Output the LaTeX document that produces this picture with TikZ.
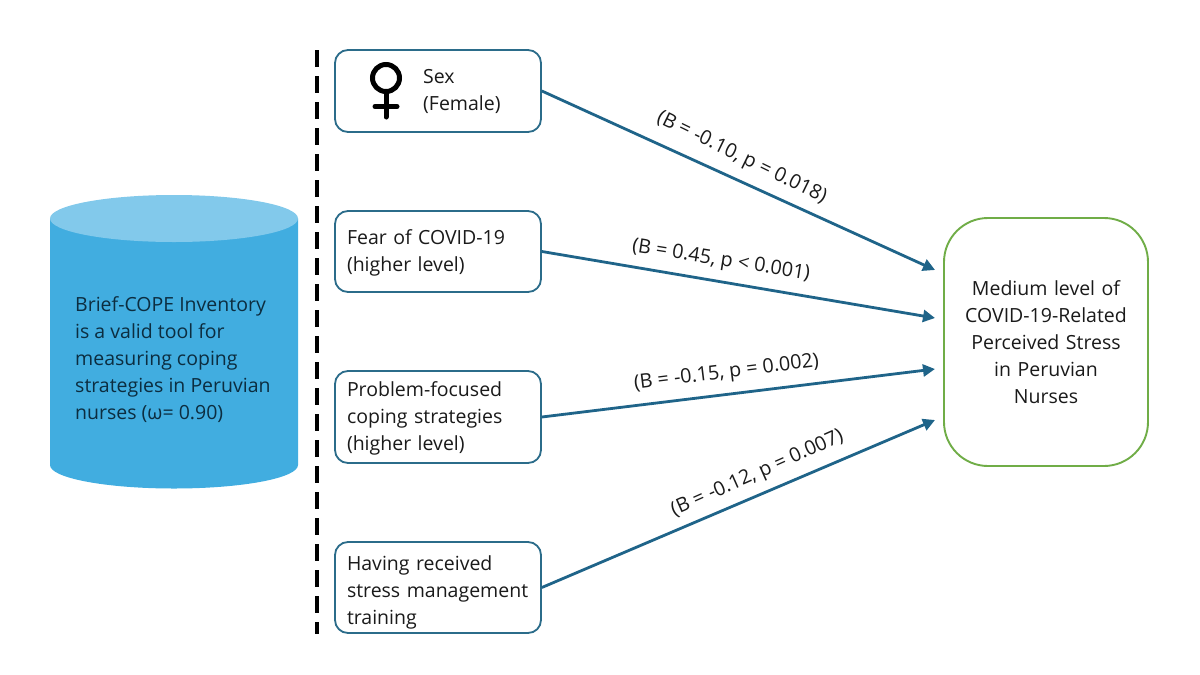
\documentclass[tikz,border=0pt]{standalone}
\usepackage{fontspec}
\setmainfont{Open Sans}
\usetikzlibrary{arrows.meta}
\definecolor{linkc}{HTML}{1F6489}
\definecolor{boxc}{HTML}{2B6C8A}
\definecolor{greenc}{HTML}{70AD47}
\definecolor{cylbody}{HTML}{41ADE0}
\definecolor{cyltop}{HTML}{82C9EB}
\definecolor{inkc}{HTML}{1A1A1A}
\definecolor{cylink}{HTML}{0C2D40}
\tikzset{
  x=1pt,y=-1pt,
  every node/.style={font=\fontsize{19.5}{27}\selectfont,text=inkc,inner sep=0pt},
  factor/.style={draw=boxc,line width=1.8pt,rounded corners=13pt,minimum width=206pt,fill=white,
    align=left,text width=182pt},
  outcome/.style={draw=greenc,line width=1.9pt,rounded corners=44pt,minimum width=204pt,minimum height=248pt,
    align=center,text width=190pt},
  link/.style={draw=linkc,line width=2.8pt,-{Triangle[length=12pt,width=12pt]}},
  coef/.style={font=\fontsize{19.8}{22}\selectfont},
  divider/.style={draw=black,line width=3.4pt,dash pattern=on 17pt off 9pt},
  symbolline/.style={draw=black,line width=5pt,line cap=round}
}
\begin{document}
\begin{tikzpicture}
\useasboundingbox[fill=white] (0,0) rectangle (1200,675);
% cylinder
\fill[cylbody] (50,218.5) -- (50,465) arc[x radius=124,y radius=23.5,start angle=180,end angle=0] -- (298,218.5) -- cycle;
\fill[cyltop] (174,218.5) ellipse[x radius=124,y radius=23.5];
\node[anchor=west,align=left,text=cylink] (tool) at (75,359.5) {Brief-COPE Inventory\\is a valid tool for\\measuring coping\\strategies in Peruvian\\nurses (ω= 0.90)};
% divider
\coordinate (dtop) at (317,50);
\coordinate (dbot) at (317,634);
\draw[divider] (dtop) -- (dbot);
% factors
\node[factor,minimum height=82pt] (f1) at (438,91) {};
\node[anchor=west,align=left] (f1t) at (423,91.5) {Sex\\(Female)};
\draw[symbolline] (386,78) circle[radius=13.5];
\draw[symbolline] (386,92) -- (386,117);
\draw[symbolline] (375,106.5) -- (397,106.5);
\node[factor,minimum height=81pt] (f2) at (438,251.5) {\rule{0pt}{17pt}Fear of COVID-19\\(higher level)};
\node[factor,minimum height=92pt] (f3) at (438,417) {\rule{0pt}{17pt}Problem-focused\\coping strategies\\(higher level)};
\node[factor,minimum height=91pt] (f4) at (438,587.5) {\rule{0pt}{25pt}Having received\\stress management\\training};
% outcome
\node[outcome] (out) at (1046,342) {Medium level of\\COVID-19-Related\\Perceived Stress\\in Peruvian\\Nurses};
% link ends
\coordinate (e1) at (935,270);
\coordinate (e2) at (935,318);
\coordinate (e3) at (935,369);
\coordinate (e4) at (935,420);
\draw[link] (f1.east) -- (e1);
\draw[link] (f2.east) -- (e2);
\draw[link] (f3.east) -- (e3);
\draw[link] (f4.east) -- (e4);
% coefficients
\node[coef,rotate=-26] (c1) at (741.5,158) {(B = -0.10, p = 0.018)};
\node[coef,rotate=-9] (c2) at (721,261) {(B = 0.45, p < 0.001)};
\node[coef,rotate=7] (c3) at (726.5,373) {(B = -0.15, p = 0.002)};
\node[coef,rotate=24] (c4) at (757.5,474) {(B = -0.12, p = 0.007)};
\end{tikzpicture}
\end{document}
